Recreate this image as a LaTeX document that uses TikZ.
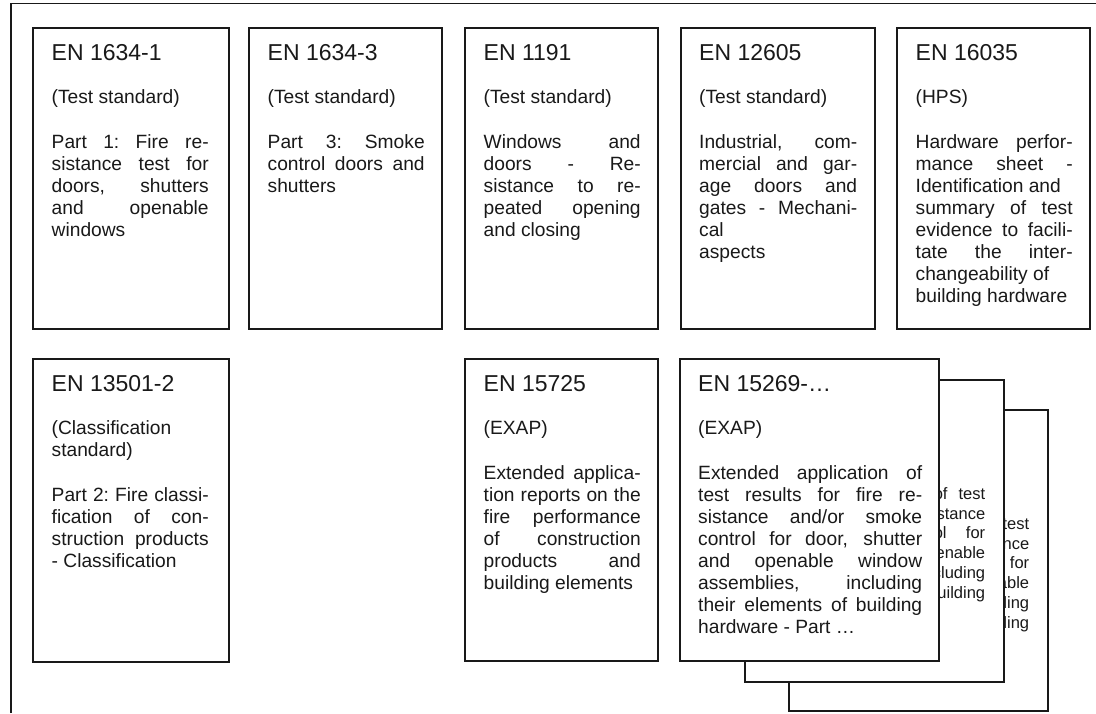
\documentclass[tikz,border=0pt]{standalone}
\usepackage{fontspec}
\setmainfont{Liberation Sans}
\setlength{\parindent}{0pt}
\newcommand{\J}[1]{\makebox[\hsize][s]{\spaceskip=0.278em plus 1fil\xspaceskip=\spaceskip #1}}
\tikzset{
  box/.style={draw=black!90, line width=1.7pt, fill=white, inner sep=0pt, anchor=north west},
  ttl/.style={inner sep=0pt, anchor=base west, text=black!90, font=\fontsize{23pt}{27pt}\selectfont},
  body/.style={inner sep=0pt, anchor=north west, text=black!90, text width=#1, align=justify, font=\fontsize{19.2pt}{22pt}\selectfont},
  small/.style={inner sep=0pt, anchor=north west, text=black!90, text width=222pt, align=justify, font=\fontsize{16.5pt}{19.8pt}\selectfont},
  frame/.style={draw=black!90, line width=1.5pt}
}
\begin{document}
\begin{tikzpicture}[x=1pt,y=-1pt]
\useasboundingbox (0,0) rectangle (1096,713);
% outer frame
\coordinate (f0) at (11,713);
\coordinate (f1) at (11,3.5);
\coordinate (f2) at (1096,3.5);
\draw[frame] (f0) -- (f1) -- (f2);

% row 1
\node[box, minimum width=196pt, minimum height=301pt] (b1) at (32,27) {};
\node[ttl] (b1h) at ([shift={(19.5,33)}]b1.north west) {EN 1634-1};
\node[body=157pt] (b1t) at ([shift={(19.5,60)}]b1.north west) {\rule{0pt}{16pt}(Test standard)\\[23pt]
\J{Part 1: Fire re-}\\
\J{sistance test for}\\
\J{doors, shutters}\\
\J{and openable}\\
windows};

\node[box, minimum width=193pt, minimum height=301pt] (b2) at (248,27) {};
\node[ttl] (b2h) at ([shift={(19.5,33)}]b2.north west) {EN 1634-3};
\node[body=157pt] (b2t) at ([shift={(19.5,60)}]b2.north west) {\rule{0pt}{16pt}(Test standard)\\[23pt]
\J{Part 3: Smoke}\\
\J{control doors and}\\
shutters};

\node[box, minimum width=193pt, minimum height=301pt] (b3) at (464,27) {};
\node[ttl] (b3h) at ([shift={(19.5,33)}]b3.north west) {EN 1191};
\node[body=157pt] (b3t) at ([shift={(19.5,60)}]b3.north west) {\rule{0pt}{16pt}(Test standard)\\[23pt]
\J{Windows and}\\
\J{doors - Re-}\\
\J{sistance to re-}\\
\J{peated opening}\\
and closing};

\node[box, minimum width=194pt, minimum height=301pt] (b4) at (680,27) {};
\node[ttl] (b4h) at ([shift={(19,33)}]b4.north west) {EN 12605};
\node[body=158pt] (b4t) at ([shift={(19,60)}]b4.north west) {\rule{0pt}{16pt}(Test standard)\\[23pt]
\J{Industrial, com-}\\
\J{mercial and gar-}\\
\J{age doors and}\\
\J{gates - Mechani-}\\
cal\\
aspects};

\node[box, minimum width=193pt, minimum height=301pt] (b5) at (896,27) {};
\node[ttl] (b5h) at ([shift={(19.5,33)}]b5.north west) {EN 16035};
\node[body=157pt] (b5t) at ([shift={(19.5,60)}]b5.north west) {\rule{0pt}{16pt}(HPS)\\[23pt]
\J{Hardware perfor-}\\
\J{mance sheet -}\\
Identification and\\
\J{summary of test}\\
\J{evidence to facili-}\\
\J{tate the inter-}\\
changeability of\\
building hardware};

% row 2
\node[box, minimum width=196pt, minimum height=303pt] (b6) at (32,358) {};
\node[ttl] (b6h) at ([shift={(19.5,33)}]b6.north west) {EN 13501-2};
\node[body=157pt] (b6t) at ([shift={(19.5,60)}]b6.north west) {\rule{0pt}{16pt}(Classification\\
standard)\\[23pt]
\J{Part 2: Fire classi-}\\
\J{fication of con-}\\
\J{struction products}\\
- Classification};

\node[box, minimum width=193pt, minimum height=302pt] (b7) at (464,358) {};
\node[ttl] (b7h) at ([shift={(19.5,33)}]b7.north west) {EN 15725};
\node[body=157pt] (b7t) at ([shift={(19.5,60)}]b7.north west) {\rule{0pt}{16pt}(EXAP)\\[23pt]
\J{Extended applica-}\\
\J{tion reports on the}\\
\J{fire performance}\\
\J{of construction}\\
\J{products and}\\
building elements};

% stacked EN 15269 sheets (back to front)
\node[box, minimum width=259pt, minimum height=301pt] (b10) at (788,409) {};
\node[small] (b10t) at ([shift={(19,106)}]b10.north west) {\rule{0pt}{14pt}\J{Extended application of test}\\
\J{results for fire resistance}\\
\J{and/or smoke control for}\\
\J{door, shutter and openable}\\
\J{window assemblies, including}\\
\J{their elements of building}\\
hardware - Part …};

\node[box, minimum width=259pt, minimum height=302pt] (b9) at (744,379) {};
\node[small] (b9t) at ([shift={(19,106)}]b9.north west) {\rule{0pt}{14pt}\J{Extended application of test}\\
\J{results for fire resistance}\\
\J{and/or smoke control for}\\
\J{door, shutter and openable}\\
\J{window assemblies, including}\\
\J{their elements of building}\\
hardware - Part …};

\node[box, minimum width=259pt, minimum height=302pt] (b8) at (679,358) {};
\node[ttl] (b8h) at ([shift={(19,33)}]b8.north west) {EN 15269-…};
\node[body=224pt] (b8t) at ([shift={(19,60)}]b8.north west) {\rule{0pt}{16pt}(EXAP)\\[23pt]
\J{Extended application of}\\
\J{test results for fire re-}\\
\J{sistance and/or smoke}\\
\J{control for door, shutter}\\
\J{and openable window}\\
\J{assemblies, including}\\
\J{their elements of building}\\
hardware - Part …};
\end{tikzpicture}
\end{document}
